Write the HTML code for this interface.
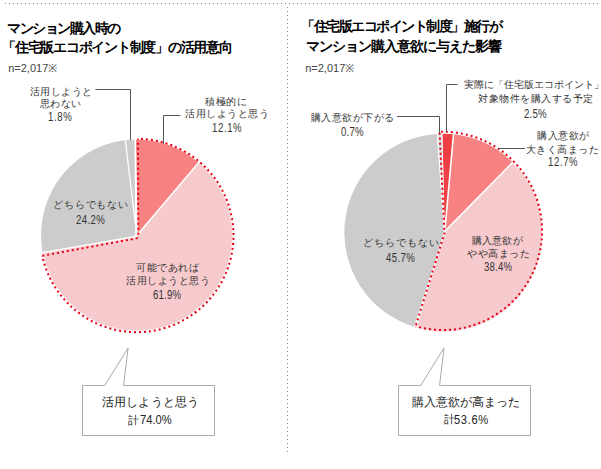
<!DOCTYPE html>
<html><head><meta charset="utf-8"><style>
html,body{margin:0;padding:0;background:#fff;width:601px;height:469px;overflow:hidden;position:relative}
body{font-family:"Liberation Sans",sans-serif}
svg{position:absolute;left:0;top:0}
.t{position:absolute;white-space:nowrap;line-height:20px}
</style></head><body>
<svg width="601" height="469" viewBox="0 0 601 469">
<path d="M138.20,235.50 L197.48,161.59 A95.4,95.4 0 1 1 42.97,252.42 Z" fill="#f7cacd" />
<path d="M135.60,235.60 L42.57,252.49 A95.80000000000001,95.80000000000001 0 0 1 134.96,139.42 Z" fill="#cccccc" />
<path d="M137.90,234.20 L135.80,139.81 A95.4,95.4 0 0 1 198.76,162.66 Z" fill="#f88282" />
<line x1="125.20" y1="139.00" x2="135.40" y2="224.00" stroke="#fff" stroke-width="1.3"/>
<line x1="135.20" y1="138.00" x2="136.20" y2="236.00" stroke="#fff" stroke-width="1.6"/>
<line x1="139.10" y1="232.80" x2="201.14" y2="159.85" stroke="#fff" stroke-width="1.5"/>
<line x1="136.80" y1="236.60" x2="39.21" y2="253.05" stroke="#fff" stroke-width="1.3"/>
<path d="M138.00,138.80 L138.30,238.00" fill="none" stroke="#e60012" stroke-width="2" stroke-dasharray="2 3" stroke-dashoffset="1"/>
<path d="M138.00,138.80 A96.7,96.7 0 1 1 42.25,255.77" fill="none" stroke="#e60012" stroke-width="2" stroke-dasharray="2 3" stroke-dashoffset="2"/>
<path d="M42.25,255.77 L138.30,238.00" fill="none" stroke="#e60012" stroke-width="2" stroke-dasharray="2 3" stroke-dashoffset="0"/>
<path d="M444.8,231.4 L511.66,161.40 A98.7,98.7 0 0 1 417.0,327.8 L443.5,233 Z" fill="#f7cacd"/>
<path d="M444.50,232.60 L413.91,326.69 A98.7,98.7 0 0 1 437.07,133.88 Z" fill="#cccccc" />
<path d="M444.20,232.20 L437.07,133.88 A98.7,98.7 0 0 1 442.41,133.70 Z" fill="#d6dada" />
<path d="M444.60,231.60 L442.41,133.70 A98.7,98.7 0 0 1 453.76,134.28 Z" fill="#ef4145" />
<path d="M444.80,231.40 L453.76,134.28 A98.7,98.7 0 0 1 512.65,162.37 Z" fill="#f88282" />
<line x1="444.50" y1="232.60" x2="437.14" y2="129.91" stroke="#fff" stroke-width="1.2"/>
<line x1="441.80" y1="131.00" x2="444.30" y2="232.00" stroke="#fff" stroke-width="1.0"/>
<line x1="453.80" y1="131.00" x2="444.80" y2="231.60" stroke="#fff" stroke-width="1.6"/>
<line x1="444.80" y1="231.40" x2="515.36" y2="159.60" stroke="#fff" stroke-width="1.5"/>
<line x1="444.60" y1="232.80" x2="415.20" y2="327.80" stroke="#fff" stroke-width="1.2"/>
<path d="M439.50,131.80 L444.50,233.00" fill="none" stroke="#e60012" stroke-width="2" stroke-dasharray="2 3" stroke-dashoffset="4"/>
<path d="M439.50,131.80 A99.15,99.15 0 1 1 415.64,326.22" fill="none" stroke="#e60012" stroke-width="2" stroke-dasharray="2 3" stroke-dashoffset="3.5"/>
<path d="M415.64,326.22 L444.50,233.00" fill="none" stroke="#e60012" stroke-width="2" stroke-dasharray="2 3" stroke-dashoffset="3.8"/>

<path d="M95.5,89.5 H130.5 V140" stroke="#555" fill="none" stroke-width="1"/>
<path d="M180.5,115.5 H163.5 V144" stroke="#555" fill="none" stroke-width="1"/>
<path d="M397,116.5 H439.5 V133" stroke="#555" fill="none" stroke-width="1"/>
<path d="M457.5,84.5 H446.5 V132" stroke="#555" fill="none" stroke-width="1"/>
<path d="M525,148.5 H498" stroke="#555" fill="none" stroke-width="1"/>
<path d="M82.5,435.5 V385.5 H104.8 L128.1,348 L123.6,385.5 H214.5 V435.5 Z" stroke="#aaa" fill="#fff" stroke-width="1"/>
<path d="M398.5,435.5 V385.5 H420.7 L444,348 L439.6,385.5 H530.5 V435.5 Z" stroke="#aaa" fill="#fff" stroke-width="1"/>
<line x1="5" y1="3.5" x2="601" y2="3.5" stroke="#888" stroke-width="1" stroke-dasharray="1 3"/>
<line x1="287.5" y1="7" x2="287.5" y2="452" stroke="#888" stroke-width="1" stroke-dasharray="1 3"/>

</svg>
<div class="t" style="left:7.0px;top:18px;font-size:14px;font-weight:bold;letter-spacing:-1.5px;color:#000">マンション購入時の</div>
<div class="t" style="left:2.1px;top:37px;font-size:14px;font-weight:bold;letter-spacing:-1.25px;color:#000">「住宅版エコポイント制度」の活用意向</div>
<div class="t" style="left:301px;top:16px;font-size:14px;font-weight:bold;letter-spacing:-1.5px;color:#000">「住宅版エコポイント制度」施行が</div>
<div class="t" style="left:305.8px;top:36px;font-size:14px;font-weight:bold;letter-spacing:-1.0px;color:#000">マンション購入意欲に与えた影響</div>
<div class="t" style="left:8.2px;top:58px;font-size:11px;font-weight:normal;letter-spacing:0px;color:#444">n=2,017※</div>
<div class="t" style="left:305.2px;top:58px;font-size:11px;font-weight:normal;letter-spacing:0px;color:#444">n=2,017※</div>
<div class="t" style="left:29.5px;top:82px;font-size:10px;font-weight:normal;letter-spacing:0.5px;color:#333">活用しようと</div>
<div class="t" style="left:40.0px;top:94px;font-size:10px;font-weight:normal;letter-spacing:0.25px;color:#333">思わない</div>
<div class="t" style="left:47.8px;top:107px;font-size:12px;font-weight:normal;letter-spacing:0.75px;color:#333;transform:scaleX(0.8);transform-origin:0 0">1.8%</div>
<div class="t" style="left:205.1px;top:92px;font-size:10px;font-weight:normal;letter-spacing:0.5px;color:#333">積極的に</div>
<div class="t" style="left:185.0px;top:104px;font-size:10px;font-weight:normal;letter-spacing:0.5px;color:#333">活用しようと思う</div>
<div class="t" style="left:211.6px;top:118px;font-size:12px;font-weight:normal;letter-spacing:0.75px;color:#333;transform:scaleX(0.8);transform-origin:0 0">12.1%</div>
<div class="t" style="left:53.4px;top:195px;font-size:10px;font-weight:normal;letter-spacing:0.75px;color:#333">どちらでもない</div>
<div class="t" style="left:76.2px;top:210px;font-size:12px;font-weight:normal;letter-spacing:0.5px;color:#333;transform:scaleX(0.8);transform-origin:0 0">24.2%</div>
<div class="t" style="left:136.2px;top:258px;font-size:10px;font-weight:normal;letter-spacing:0.5px;color:#333">可能であれば</div>
<div class="t" style="left:126.1px;top:271px;font-size:10px;font-weight:normal;letter-spacing:0.5px;color:#333">活用しようと思う</div>
<div class="t" style="left:152.5px;top:285px;font-size:12px;font-weight:normal;letter-spacing:0.25px;color:#333;transform:scaleX(0.8);transform-origin:0 0">61.9%</div>
<div class="t" style="left:101.6px;top:392px;font-size:12px;font-weight:normal;letter-spacing:0.25px;color:#222">活用しようと思う</div>
<div class="t" style="left:128px;top:410px;font-size:11px;font-weight:normal;letter-spacing:0px;color:#222">計</div>
<div class="t" style="left:140px;top:410px;font-size:13px;font-weight:normal;letter-spacing:0.0px;color:#222;transform:scaleX(0.86);transform-origin:0 0">74.0%</div>
<div class="t" style="left:463.6px;top:75px;font-size:10px;font-weight:normal;letter-spacing:0.0px;color:#333">実際に「住宅版エコポイント」</div>
<div class="t" style="left:478.1px;top:89px;font-size:10px;font-weight:normal;letter-spacing:0.5px;color:#333">対象物件を購入する予定</div>
<div class="t" style="left:523.8px;top:104px;font-size:12px;font-weight:normal;letter-spacing:0.25px;color:#333;transform:scaleX(0.8);transform-origin:0 0">2.5%</div>
<div class="t" style="left:310.5px;top:108px;font-size:10px;font-weight:normal;letter-spacing:0.5px;color:#333">購入意欲が下がる</div>
<div class="t" style="left:341.1px;top:122px;font-size:12px;font-weight:normal;letter-spacing:0.25px;color:#333;transform:scaleX(0.8);transform-origin:0 0">0.7%</div>
<div class="t" style="left:537.0px;top:126px;font-size:10px;font-weight:normal;letter-spacing:0.5px;color:#333">購入意欲が</div>
<div class="t" style="left:525.8px;top:140px;font-size:10px;font-weight:normal;letter-spacing:0.5px;color:#333">大きく高まった</div>
<div class="t" style="left:547.8px;top:152px;font-size:12px;font-weight:normal;letter-spacing:0.75px;color:#333;transform:scaleX(0.8);transform-origin:0 0">12.7%</div>
<div class="t" style="left:362.8px;top:233px;font-size:10px;font-weight:normal;letter-spacing:1.0px;color:#333">どちらでもない</div>
<div class="t" style="left:386.1px;top:248px;font-size:12px;font-weight:normal;letter-spacing:0.5px;color:#333;transform:scaleX(0.8);transform-origin:0 0">45.7%</div>
<div class="t" style="left:471.6px;top:231px;font-size:10px;font-weight:normal;letter-spacing:0.25px;color:#333">購入意欲が</div>
<div class="t" style="left:467.1px;top:244px;font-size:10px;font-weight:normal;letter-spacing:0.5px;color:#333">やや高まった</div>
<div class="t" style="left:484.0px;top:257px;font-size:12px;font-weight:normal;letter-spacing:0.25px;color:#333;transform:scaleX(0.8);transform-origin:0 0">38.4%</div>
<div class="t" style="left:411.7px;top:392px;font-size:12px;font-weight:normal;letter-spacing:0.0px;color:#222">購入意欲が高まった</div>
<div class="t" style="left:444.2px;top:409px;font-size:11px;font-weight:normal;letter-spacing:0px;color:#222">計</div>
<div class="t" style="left:454px;top:410px;font-size:13px;font-weight:normal;letter-spacing:0.75px;color:#222;transform:scaleX(0.86);transform-origin:0 0">53.6%</div>
</body></html>
